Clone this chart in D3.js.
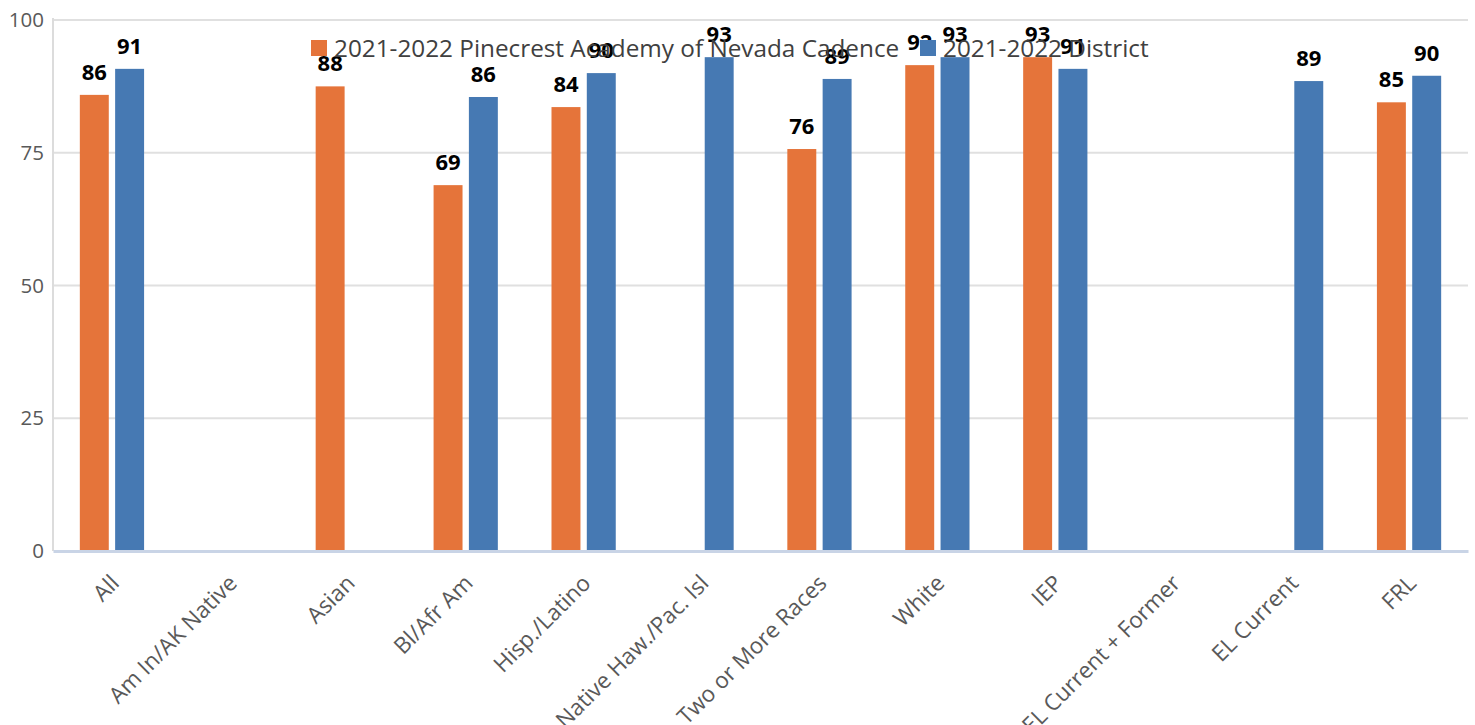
<!DOCTYPE html>
<html>
<head>
<meta charset="utf-8">
<script src="https://cdn.jsdelivr.net/npm/d3@7"></script>
<style>
  html, body { margin: 0; padding: 0; background: #fff; }
  svg { display: block; font-family: "Open Sans", "Noto Sans", sans-serif; }
</style>
</head>
<body>
<svg id="chart" width="1475" height="725"></svg>
<script>
const categories = ["All", "Am In/AK Native", "Asian", "Bl/Afr Am", "Hisp./Latino", "Native Haw./Pac. Isl", "Two or More Races", "White", "IEP", "EL Current + Former", "EL Current", "FRL"];
const seriesNames = ["2021-2022 Pinecrest Academy of Nevada Cadence", "2021-2022 District"];
const schoolValues = [85.9, null, 87.5, 68.9, 83.6, null, 75.7, 91.5, 93.0, null, null, 84.5];
const districtValues = [90.8, null, null, 85.5, 90.0, 93.0, 88.9, 93.0, 90.8, null, 88.5, 89.5];
const yTicks = [0, 25, 50, 75, 100];
const colors = ["#E5743A", "#4679B3"];

const svg = d3.select("#chart");
const margin = { left: 53, right: 7, top: 20, bottom: 174 };
const W = 1475, H = 725;
const x0 = margin.left, x1 = W - margin.right;
const y0 = H - margin.bottom, y1 = margin.top;

const x = d3.scaleBand().domain(categories).range([x0, x1]).paddingInner(0).paddingOuter(0);
const xs = d3.scaleBand().domain([0, 1]).range([0, x.bandwidth()]).paddingInner(0.18).paddingOuter(0.76);
const y = d3.scaleLinear().domain([0, 100]).range([y0, y1]);

// gridlines
const grid = svg.append("g");
grid.selectAll("line").data(yTicks.filter(d => d > 0)).join("line")
  .attr("x1", x0).attr("x2", x1)
  .attr("y1", d => y(d)).attr("y2", d => y(d))
  .attr("stroke", "#e0e0e0").attr("stroke-width", 2);

// left axis line
svg.append("line").attr("x1", x0).attr("x2", x0).attr("y1", y1 - 2).attr("y2", y0)
  .attr("stroke", "#dcdcdc").attr("stroke-width", 2);

// y axis
const yAxis = svg.append("g").attr("transform", `translate(${x0},0)`)
  .call(d3.axisLeft(y).tickValues(yTicks).tickSize(0).tickPadding(9));
yAxis.select(".domain").remove();
yAxis.selectAll("text").attr("fill", "#595959").attr("font-size", 20.5).style("font-family", "'Open Sans'");

// bars
const data = categories.map((c, i) => ({ c, vals: [schoolValues[i], districtValues[i]] }));
const groups = svg.append("g").selectAll("g").data(data).join("g")
  .attr("transform", d => `translate(${x(d.c)},0)`);
const bars = groups.selectAll("g").data(d => d.vals.map((v, k) => ({ v, k })).filter(e => e.v !== null)).join("g");
bars.append("rect")
  .attr("x", e => xs(e.k)).attr("width", xs.bandwidth())
  .attr("y", e => y(e.v)).attr("height", e => y(0) - y(e.v))
  .attr("fill", e => colors[e.k]);

// bottom axis
const xAxis = svg.append("g").attr("transform", `translate(0,${y0})`)
  .call(d3.axisBottom(x).tickSize(0).tickPadding(0));
xAxis.select(".domain").attr("stroke", "#c9d4e6").attr("stroke-width", 3);
xAxis.selectAll("text")
  .attr("fill", "#595959").attr("font-size", 22.5).style("font-family", "'Open Sans'")
  .attr("text-anchor", "end")
  .attr("dy", "0.35em")
  .attr("transform", "translate(3,28) rotate(-45)");

// legend
const legend = svg.append("g").attr("transform", "translate(311,48)");
const legItems = [{ x: 0, k: 0 }, { x: 609, k: 1 }];
legItems.forEach(li => {
  legend.append("rect").attr("x", li.x).attr("y", -8).attr("width", 16).attr("height", 16).attr("fill", colors[li.k]);
  legend.append("text").attr("x", li.x + 23).attr("y", 0).attr("dy", "0.35em")
    .attr("font-size", 24.3).attr("fill", "#404040").text(seriesNames[li.k]);
});

// labels (drawn above legend like the reference)
bars.append("text")
  .attr("x", e => xs(e.k) + xs.bandwidth() / 2)
  .attr("y", e => y(e.v) - 15)
  .attr("text-anchor", "middle")
  .attr("font-size", 22).attr("font-weight", "bold").attr("fill", "#000")
  .text(e => d3.format(".0f")(e.v));
</script>
</body>
</html>
